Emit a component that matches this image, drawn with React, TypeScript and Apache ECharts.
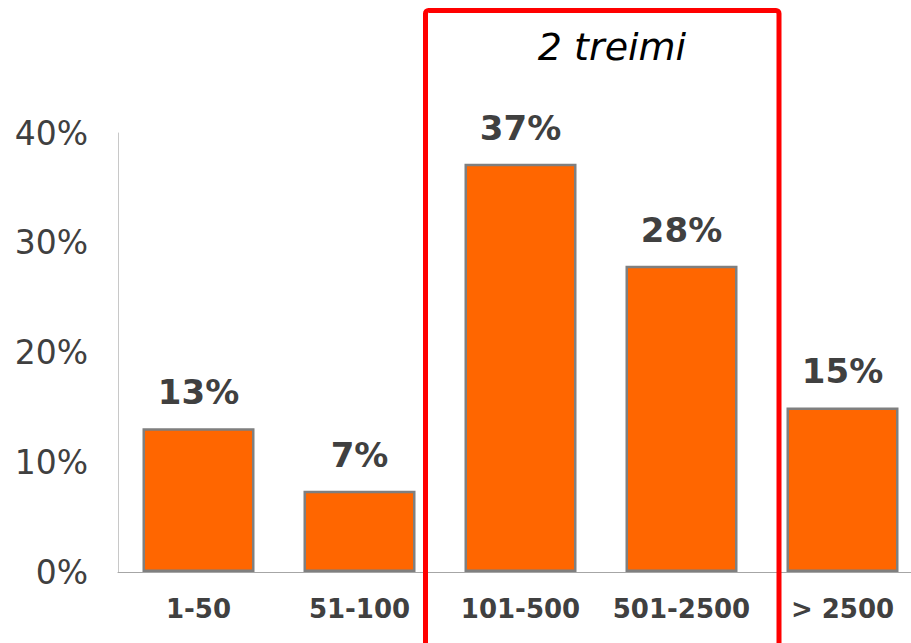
import React, { useEffect, useRef } from "react";
import * as echarts from "echarts";

const categories = ["1-50", "51-100", "101-500", "501-2500", "> 2500"];
const values = [13.1, 7.4, 37.2, 27.9, 15.0];
const valueLabels = ["13%", "7%", "37%", "28%", "15%"];
const yTicks = [0, 10, 20, 30, 40];
const annotation = "2 treimi";

export default function App() {
  const ref = useRef<HTMLDivElement>(null);

  useEffect(() => {
    document.body.style.margin = "0";
    const chart = echarts.init(ref.current!, null, { renderer: "svg" });
    const font = "'DejaVu Sans', Verdana, sans-serif";
    chart.setOption({
      animation: false,
      backgroundColor: "#ffffff",
      grid: { left: 118, right: 0, top: 133, bottom: 71, containLabel: false },
      xAxis: {
        type: "category",
        data: categories,
        axisTick: { show: false },
        axisLine: { show: true, lineStyle: { color: "#a6a6a6", width: 1 } },
        axisLabel: {
          interval: 0,
          margin: 24,
          color: "#404040",
          fontFamily: font,
          fontWeight: "bold",
          fontSize: 26,
        },
      },
      yAxis: {
        type: "value",
        min: yTicks[0],
        max: yTicks[yTicks.length - 1],
        interval: 10,
        splitLine: { show: false },
        axisTick: { show: false },
        axisLine: { show: true, lineStyle: { color: "#c8c8c8", width: 1 } },
        axisLabel: {
          margin: 30,
          color: "#404040",
          fontFamily: font,
          fontSize: 33,
          formatter: "{value}%",
        },
      },
      series: [
        {
          type: "bar",
          data: values,
          barWidth: 112,
          itemStyle: { color: "#ff6600", borderColor: "#7f7f7f", borderWidth: 2.5 },
          label: {
            show: true,
            position: "top",
            distance: 19,
            color: "#404040",
            fontFamily: font,
            fontWeight: "bold",
            fontSize: 34,
            formatter: (p: any) => valueLabels[p.dataIndex],
          },
        },
      ],
      graphic: [
        {
          type: "rect",
          shape: { x: 425.5, y: 10.5, width: 353.5, height: 700, r: 3 },
          style: { fill: "none", stroke: "#ff0000", lineWidth: 5 },
          z: 100,
        },
        {
          type: "text",
          x: 612,
          y: 47,
          style: {
            text: annotation,
            fill: "#000000",
            font: `italic 38px ${font}`,
            align: "center",
            verticalAlign: "middle",
          },
          z: 100,
        },
      ],
    });
    return () => chart.dispose();
  }, []);

  return (
    <div style={{ width: 911, height: 643, overflow: "hidden", position: "relative" }}>
      <div ref={ref} style={{ width: 923, height: 643 }} />
    </div>
  );
}
